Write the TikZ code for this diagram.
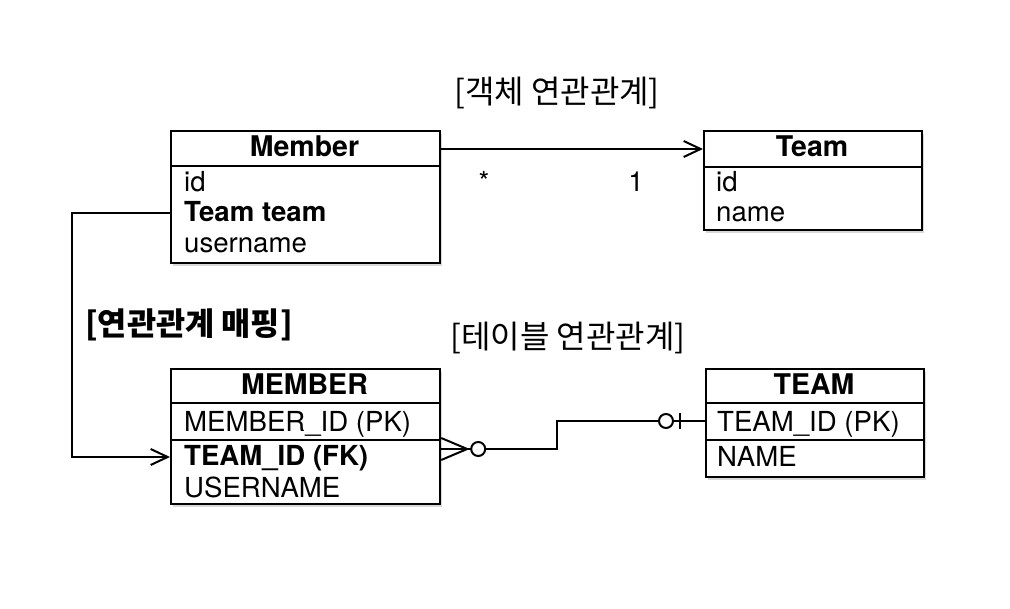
\documentclass[tikz,border=0pt]{standalone}
\usepackage{fontspec}
\setmainfont{TeX Gyre Heros}
\newfontfamily\kr{Noto Sans CJK KR}
\usetikzlibrary{arrows.meta,shadows,calc}
\begin{document}
\begin{tikzpicture}[x=1pt,y=-1pt,
  box/.style={draw,line width=2.2pt,fill=white,inner sep=0pt,anchor=north west,
    drop shadow={shadow xshift=1.5pt,shadow yshift=-3pt,opacity=0.3}},
  sep/.style={line width=2.2pt},
  hdr/.style={font=\fontsize{28.5}{28.5}\selectfont\bfseries,anchor=base,inner sep=0pt},
  row/.style={font=\fontsize{27.6}{27.6}\selectfont,anchor=base west,inner sep=0pt},
  boldrow/.style={row,font=\fontsize{27.6}{27.6}\selectfont\bfseries},
  mult/.style={font=\fontsize{27.6}{27.6}\selectfont,anchor=base,inner sep=0pt},
  conn/.style={line width=2pt},
  openarrow/.style={-{Straight Barb[length=17pt,width=16pt,line width=2pt]}},
  lbl/.style={font=\kr\fontsize{32}{32}\selectfont,inner sep=0pt},
  boldlbl/.style={font=\kr\bfseries\fontsize{31.7}{31.7}\selectfont,inner sep=0pt}
]
\useasboundingbox[fill=white] (0,0) rectangle (1010,609);

% ---------- object model ----------
\node[box,minimum width=269pt,minimum height=132pt] (member) at (170,130) {};
\draw[sep] (170,166) -- (439,166);
\node[hdr] (member-h) at (304.5,157) {Member};
\node[row] (member-id) at (184,192) {id};
\node[boldrow] (member-team) at (184,222) {Team team};
\node[row] (member-user) at (184,253) {username};

\node[box,minimum width=218pt,minimum height=99pt] (team) at (703,130) {};
\draw[sep] (703,167) -- (921,167);
\node[hdr] (team-h) at (812,157) {Team};
\node[row] (team-id) at (716,192) {id};
\node[row] (team-name) at (716,222) {name};

\node[lbl] (objlbl) at (557,93) {[객체 연관관계]};
\node[mult] (star) at (484,192) {*};
\node[mult] (one) at (636,192) {1};

\draw[conn,openarrow] ([yshift=-19pt]member.north east) -- ([yshift=-19pt]team.north west);

% ---------- table model ----------
\node[boldlbl] (maplbl) at (189,325) {[연관관계 매핑]};
\node[lbl] (tbllbl) at (568,338) {[테이블 연관관계]};

\node[box,minimum width=269pt,minimum height=135pt] (MEMBER) at (170,368) {};
\draw[sep] (170,403) -- (439,403);
\draw[sep] (170,440) -- (439,440);
\node[hdr] (MEMBER-h) at (304.5,395) {MEMBER};
\node[row] (MEMBER-id) at (184,432) {MEMBER\_ID (PK)};
\node[boldrow] (MEMBER-fk) at (184,466) {TEAM\_ID (FK)};
\node[row] (MEMBER-user) at (184,497) {USERNAME};

\node[box,minimum width=218pt,minimum height=108pt] (TEAM) at (705,368) {};
\draw[sep] (705,403) -- (923,403);
\draw[sep] (705,440) -- (923,440);
\node[hdr] (TEAM-h) at (814,395) {TEAM};
\node[row] (TEAM-id) at (717,432) {TEAM\_ID (PK)};
\node[row] (TEAM-name) at (717,467) {NAME};

% mapping connector
\draw[conn,openarrow] ([yshift=-83pt]member.north west) -- ++(-98,0) |- ([yshift=-89pt]MEMBER.north west);

% ER connector
\coordinate (cf) at ([yshift=-81pt]MEMBER.north east);
\coordinate (tm) at ([yshift=-53pt]TEAM.north west);
\draw[conn] ($(cf)+(0,-11)$) -- ($(cf)+(26,0)$) -- ($(cf)+(0,11)$);
\draw[conn] (cf) -- ($(cf)+(30,0)$);
\draw[conn] ($(cf)+(37,0)$) circle (7pt);
\draw[conn] ($(cf)+(44,0)$) -- ++(72,0) |- ($(tm)+(-46,0)$);
\draw[conn] ($(tm)+(-39,0)$) circle (7pt);
\draw[conn] ($(tm)+(-32,0)$) -- (tm);
\draw[conn] ($(tm)+(-25,-8)$) -- ($(tm)+(-25,8)$);
\end{tikzpicture}
\end{document}
